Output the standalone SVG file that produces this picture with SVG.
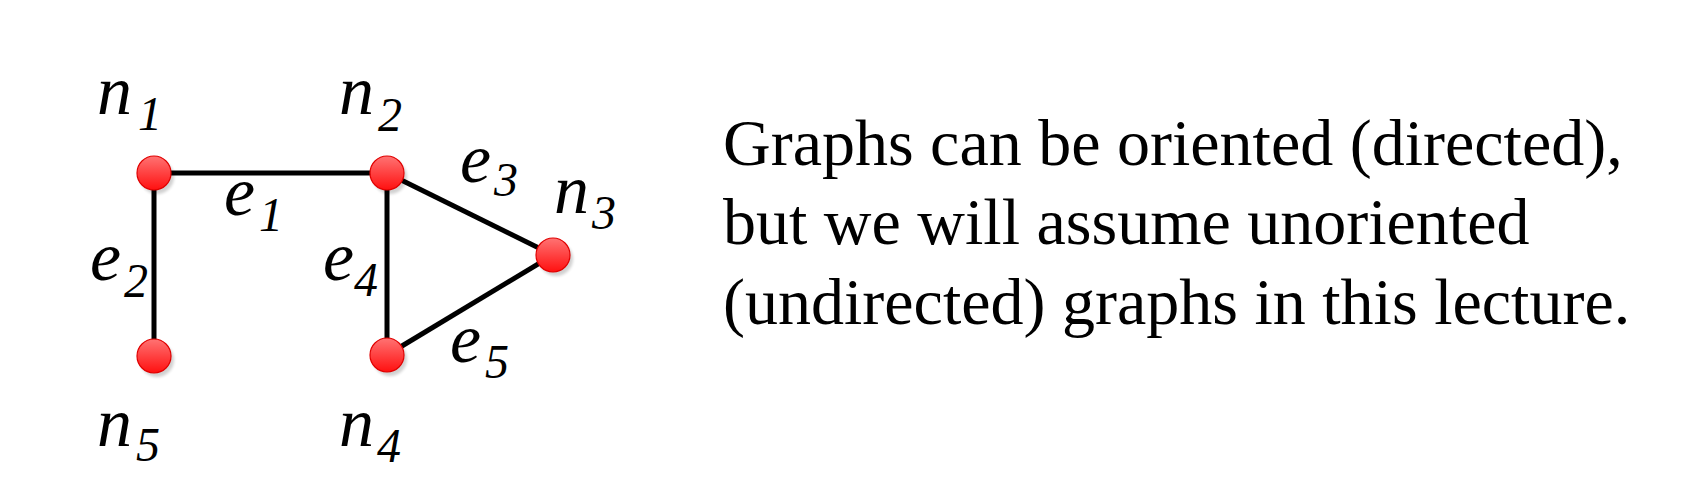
<svg xmlns="http://www.w3.org/2000/svg" width="1696" height="480" viewBox="0 0 1696 480">
<style>
.lbl{font-family:"Liberation Serif","Times New Roman",serif;font-style:italic;font-size:70px;fill:#000}
.sub{font-size:48px}
.edge{stroke:#000;stroke-width:5;fill:none}
.txt{font-family:"Liberation Serif","Times New Roman",serif;font-size:66px;fill:#000}
.node{fill:url(#g);stroke:#e00000;stroke-width:1.2}
.shadow{fill:#000;opacity:0.18}
</style>
<defs>
<linearGradient id="g" x1="0" y1="0" x2="0" y2="1">
<stop offset="0" stop-color="#ff7373"/>
<stop offset="1" stop-color="#ff1010"/>
</linearGradient>
<filter id="blur" x="-50%" y="-50%" width="200%" height="200%"><feGaussianBlur stdDeviation="1.5"/></filter>
</defs>
<rect width="1696" height="480" fill="#fff"/>
<g id="connectors">
<line class="edge" x1="154" y1="173" x2="387" y2="173"/>
<line class="edge" x1="154" y1="173" x2="154" y2="356"/>
<line class="edge" x1="387" y1="173" x2="387" y2="355"/>
<line class="edge" x1="387" y1="173" x2="553" y2="255"/>
<line class="edge" x1="387" y1="355" x2="553" y2="255"/>
</g>
<g id="edge-labels">
<text class="lbl" x="224" y="215">e<tspan class="sub" x="259" y="231">1</tspan></text>
<text class="lbl" x="90" y="280">e<tspan class="sub" x="124" y="297">2</tspan></text>
<text class="lbl" x="460" y="182">e<tspan class="sub" x="494" y="196">3</tspan></text>
<text class="lbl" x="323" y="280">e<tspan class="sub" x="354" y="296">4</tspan></text>
<text class="lbl" x="450" y="362">e<tspan class="sub" x="485" y="378">5</tspan></text>
</g>
<g id="n1">
<circle class="shadow" cx="157" cy="177" r="17" filter="url(#blur)"/>
<circle class="node" cx="154" cy="173" r="17"/>
<text class="lbl" x="97" y="114">n<tspan class="sub" x="138" y="130">1</tspan></text>
</g>
<g id="n2">
<circle class="shadow" cx="390" cy="177" r="17" filter="url(#blur)"/>
<circle class="node" cx="387" cy="173" r="17"/>
<text class="lbl" x="339" y="114">n<tspan class="sub" x="378" y="131">2</tspan></text>
</g>
<g id="n3">
<circle class="shadow" cx="556" cy="259" r="17" filter="url(#blur)"/>
<circle class="node" cx="553" cy="255" r="17"/>
<text class="lbl" x="554" y="213">n<tspan class="sub" x="592" y="229">3</tspan></text>
</g>
<g id="n4">
<circle class="shadow" cx="390" cy="359" r="17" filter="url(#blur)"/>
<circle class="node" cx="387" cy="355" r="17"/>
<text class="lbl" x="339" y="446">n<tspan class="sub" x="377" y="462">4</tspan></text>
</g>
<g id="n5">
<circle class="shadow" cx="157" cy="360" r="17" filter="url(#blur)"/>
<circle class="node" cx="154" cy="356" r="17"/>
<text class="lbl" x="97" y="446">n<tspan class="sub" x="136" y="461">5</tspan></text>
</g>
<g id="caption">
<text class="txt" x="723" y="165">Graphs can be oriented (directed),</text>
<text class="txt" x="723" y="244">but we will assume unoriented</text>
<text class="txt" x="723" y="324">(undirected) graphs in this lecture.</text>
</g>
</svg>
